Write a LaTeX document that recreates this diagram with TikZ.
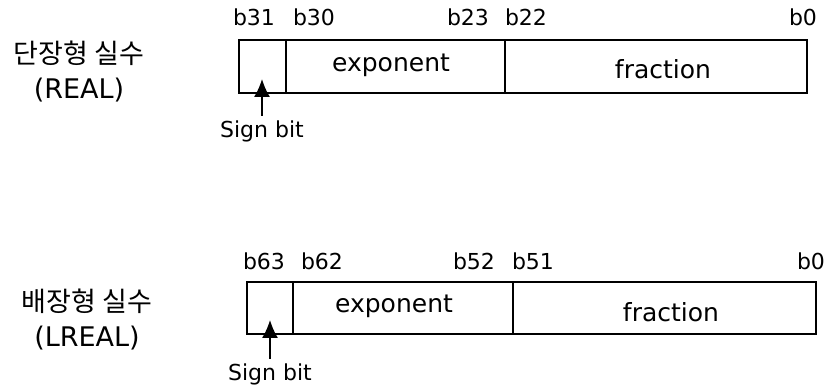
\documentclass[tikz,border=0pt]{standalone}
\usepackage{fontspec}
\setmainfont{DejaVu Sans}
\newfontfamily\kofont{Noto Sans CJK KR}
\usetikzlibrary{arrows.meta}

\begin{document}
\begin{tikzpicture}[x = 0.5pt, y = -0.5pt, > = {Latex[length = 9pt, width = 8pt]}]

	% Styles (coordinates are in pixels, y runs downwards)

	\tikzset{
		cell/.style = {draw, line width = 1pt},
		bitno/.style = {font = \fontsize{11}{13}\selectfont},
		fieldname/.style = {font = \fontsize{12.5}{15}\selectfont},
		signlabel/.style = {font = \fontsize{11}{13}\selectfont, inner sep = 2pt},
		typename/.style = {align = center, font = \fontsize{13.5}{17.5}\selectfont}
	}

	\useasboundingbox (0, 0) rectangle (826, 389);

	% Single precision (REAL)

	\node [typename] (real) at (79, 72) {{\kofont 단장형 실수}\\(REAL)};

	\draw [cell] (239, 40) rectangle (286, 93);
	\draw [cell] (286, 40) rectangle (505, 93);
	\draw [cell] (505, 40) rectangle (807, 93);

	\node [fieldname] (exp1) at (391, 65) {exponent};
	\node [fieldname] (frac1) at (663, 69) {fraction};

	\node [bitno] (b31) at (254, 17) {b31};
	\node [bitno] (b30) at (314, 17) {b30};
	\node [bitno] (b23) at (468, 17) {b23};
	\node [bitno] (b22) at (526, 17) {b22};
	\node [bitno] (b0-1) at (803, 17) {b0};

	\coordinate (tip1) at (262, 79);
	\node [signlabel] (sign1) at (262, 131) {Sign bit};
	\draw [->, line width = 0.8pt] (sign1.north) -- (tip1);

	% Double precision (LREAL)

	\node [typename] (lreal) at (87, 320) {{\kofont 배장형 실수}\\(LREAL)};

	\draw [cell] (247, 282) rectangle (293, 334);
	\draw [cell] (293, 282) rectangle (513, 334);
	\draw [cell] (513, 282) rectangle (816, 334);

	\node [fieldname] (exp2) at (394, 306) {exponent};
	\node [fieldname] (frac2) at (671, 312) {fraction};

	\node [bitno] (b63) at (264, 261) {b63};
	\node [bitno] (b62) at (322, 261) {b62};
	\node [bitno] (b52) at (474, 261) {b52};
	\node [bitno] (b51) at (533, 261) {b51};
	\node [bitno] (b0-2) at (811, 261) {b0};

	\coordinate (tip2) at (270, 320);
	\node [signlabel] (sign2) at (270, 374) {Sign bit};
	\draw [->, line width = 0.8pt] (sign2.north) -- (tip2);

\end{tikzpicture}
\end{document}
